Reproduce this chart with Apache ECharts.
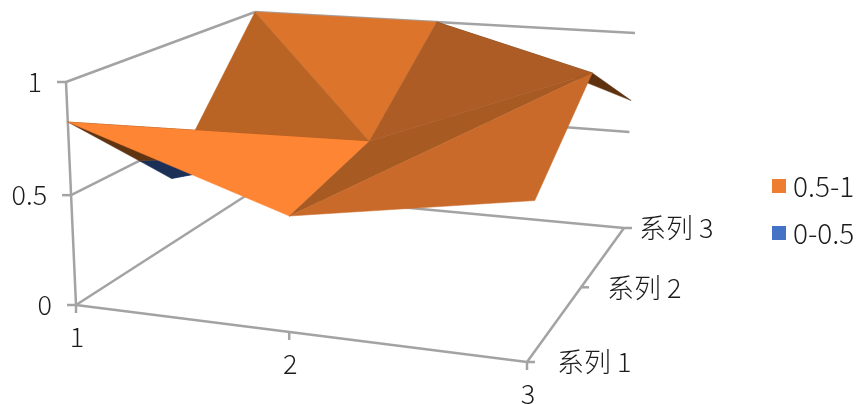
<!DOCTYPE html>
<html>
<head>
<meta charset="utf-8">
<style>
  html, body { margin: 0; padding: 0; background: #fff; }
  #chart { width: 862px; height: 404px; }
</style>
</head>
<body>
<div id="chart"></div>
<script src="https://cdn.jsdelivr.net/npm/echarts@6/dist/echarts.min.js"></script>
<script>
// values
const xLabels = ['1', '2', '3'];
const depthLabels = ['系列 1', '系列 2', '系列 3'];
const zTicks = [0, 0.5, 1];
const series1Values = [0.825, 0.5, 0.655];
const series2Values = [0.33, 0.595, 0.98];
const series3Values = [1, 1, 0.66];
const bandNames = ['0.5-1', '0-0.5'];

const rows = [series1Values, series2Values, series3Values];
const FONT = '"Noto Sans CJK SC", sans-serif';
const TEXT_COLOR = '#1c1c1c';
const FRAME_COLOR = '#a3a3a3';

// the 3d box as it sits on the page: front-left, front-right, back-right, back-left
const floorQuad = [[76, 305], [527, 362], [624, 228], [250, 193]];
const topQuad = [[66, 82], [539, 113], [635, 33], [255, 12]];

// perspective weights come from the floor, the top uses the same ones
const persp = (function (q) {
  const dx1 = q[1][0] - q[2][0], dy1 = q[1][1] - q[2][1];
  const dx2 = q[3][0] - q[2][0], dy2 = q[3][1] - q[2][1];
  const sx = q[0][0] - q[1][0] + q[2][0] - q[3][0];
  const sy = q[0][1] - q[1][1] + q[2][1] - q[3][1];
  const det = dx1 * dy2 - dx2 * dy1;
  return { g: (sx * dy2 - dx2 * sy) / det, h: (dx1 * sy - sx * dy1) / det };
})(floorQuad);

function quadPoint(q, u, v) {
  const g = persp.g, h = persp.h;
  const w = 1 + g * u + h * v;
  const ws = [1, 1 + g, 1 + g + h, 1 + h];
  const bl = [(1 - u) * (1 - v), u * (1 - v), u * v, (1 - u) * v];
  let x = 0, y = 0;
  q.forEach(function (c, i) {
    x += c[0] * ws[i] * bl[i];
    y += c[1] * ws[i] * bl[i];
  });
  return [x / w, y / w];
}

// u: x index 0..2, v: row index 0..2, z: value 0..1
function project(u, v, z) {
  const a = quadPoint(floorQuad, u / 2, v / 2);
  const b = quadPoint(topQuad, u / 2, v / 2);
  const f = z / (1 + 0.03 * (1 - z)); // the value axis is a little foreshortened too
  return [a[0] + (b[0] - a[0]) * f, a[1] + (b[1] - a[1]) * f];
}

// surface triangles back to front, [x, row] of each corner, with the shade of each band
const triangles = [
  { c: [[0, 2], [1, 2], [1, 1]], top: '#dc742c', low: '#3f66ad' },
  { c: [[0, 2], [1, 1], [0, 1]], top: '#b96425', low: '#2f5597' },
  { c: [[1, 2], [2, 1], [2, 2]], top: '#5e3210', low: '#1b2f57' },
  { c: [[1, 2], [1, 1], [2, 1]], top: '#ac5c24', low: '#2f5597' },
  { c: [[0, 0], [1, 1], [0, 1]], top: '#603311', low: '#1b2f57' },
  { c: [[0, 0], [1, 0], [1, 1]], top: '#fe8534', low: '#4472c4' },
  { c: [[1, 0], [2, 1], [1, 1]], top: '#a85a23', low: '#2f5597' },
  { c: [[1, 0], [2, 0], [2, 1]], top: '#c96a2a', low: '#3f66ad' }
];

// part of a triangle that lies inside a value band
function clipBand(tri, lo, hi) {
  let pts = tri.map(p => [p[0], p[1], rows[p[1]][p[0]]]);
  [[lo, 1], [hi, -1]].forEach(function (edge) {
    const out = [];
    pts.forEach(function (p, i) {
      const n = pts[(i + 1) % pts.length];
      const dp = (p[2] - edge[0]) * edge[1];
      const dn = (n[2] - edge[0]) * edge[1];
      if (dp >= 0) out.push(p);
      if (dp * dn < 0) {
        const t = dp / (dp - dn);
        out.push([p[0] + (n[0] - p[0]) * t, p[1] + (n[1] - p[1]) * t, edge[0]]);
      }
    });
    pts = out;
  });
  return pts;
}

function bandRender(lo, hi, key) {
  return function (params, api) {
    const t = triangles[api.value(0)];
    const pts = clipBand(t.c, lo, hi);
    if (pts.length < 3) return null;
    return {
      type: 'polygon',
      shape: { points: pts.map(p => api.coord(project(p[0], p[1], p[2]))) },
      style: { fill: t[key], stroke: t[key], lineWidth: 0.5 }
    };
  };
}

// box lines and ticks, as [from, to] in box coordinates plus a pixel tail for ticks
const frameLines = [];
zTicks.forEach(function (z) {
  frameLines.push({ a: [0, 0, z], b: [0, 2, z] });
  frameLines.push({ a: [0, 2, z], b: [2, 2, z] });
  frameLines.push({ a: [0, 0, z], b: [0, 0, z], tail: [-9, 0] });
});
frameLines.push({ a: [0, 0, 0], b: [0, 0, 1] });
frameLines.push({ a: [0, 0, 0], b: [2, 0, 0] });
frameLines.push({ a: [2, 0, 0], b: [2, 2, 0] });
xLabels.forEach(function (s, i) {
  frameLines.push({ a: [i, 0, 0], b: [i, 0, 0], tail: [0, 8] });
});
depthLabels.forEach(function (s, i) {
  frameLines.push({ a: [2, i, 0], b: [2, i, 0], tail: [8, 0] });
});

const labelItems = [];
zTicks.forEach(function (z) {
  labelItems.push({ text: String(z), at: [0, 0, z], off: [-24, 0], align: 'right' });
});
xLabels.forEach(function (s, i) {
  labelItems.push({ text: s, at: [i, 0, 0], off: [1, 32], align: 'center' });
});
depthLabels.forEach(function (s, i) {
  labelItems.push({ text: s, at: [2, i, 0], off: [i === 0 ? 30 : i === 1 ? 26 : 15, 0], align: 'left' });
});

const option = {
  animation: false,
  backgroundColor: '#fff',
  grid: { left: 0, right: 0, top: 0, bottom: 0 },
  xAxis: { type: 'value', min: 0, max: 862, show: false },
  yAxis: { type: 'value', min: 0, max: 404, inverse: true, show: false },
  legend: {
    orient: 'vertical',
    left: 767,
    top: 167,
    itemWidth: 14,
    itemHeight: 14,
    itemGap: 19,
    selectedMode: false,
    textStyle: { fontFamily: FONT, fontSize: 28, fontWeight: 300, color: TEXT_COLOR, padding: [0, 0, 0, 2] },
    data: bandNames.map(n => ({ name: n, icon: 'rect' }))
  },
  series: [
    {
      type: 'custom',
      name: 'frame',
      silent: true,
      z: 1,
      data: frameLines.map((l, i) => [i]),
      renderItem: function (params, api) {
        const l = frameLines[api.value(0)];
        const p = api.coord(project(l.a[0], l.a[1], l.a[2]));
        const q = api.coord(project(l.b[0], l.b[1], l.b[2]));
        if (l.tail) { q[0] += l.tail[0]; q[1] += l.tail[1]; }
        return {
          type: 'line',
          shape: { x1: p[0], y1: p[1], x2: q[0], y2: q[1] },
          style: { stroke: FRAME_COLOR, lineWidth: 2.5 }
        };
      }
    },
    {
      type: 'custom',
      name: bandNames[1],
      silent: true,
      z: 2,
      itemStyle: { color: '#4472c4' },
      data: triangles.map((t, i) => [i]),
      renderItem: bandRender(0, 0.5, 'low')
    },
    {
      type: 'custom',
      name: bandNames[0],
      silent: true,
      z: 3,
      itemStyle: { color: '#ed7d31' },
      data: triangles.map((t, i) => [i]),
      renderItem: bandRender(0.5, 1, 'top')
    },
    {
      type: 'custom',
      name: 'labels',
      silent: true,
      z: 4,
      data: labelItems.map((l, i) => [i]),
      renderItem: function (params, api) {
        const l = labelItems[api.value(0)];
        const p = api.coord(project(l.at[0], l.at[1], l.at[2]));
        return {
          type: 'text',
          style: {
            text: l.text,
            x: p[0] + l.off[0],
            y: p[1] + l.off[1],
            align: l.align,
            verticalAlign: 'middle',
            fill: TEXT_COLOR,
            font: '300 27px ' + FONT
          }
        };
      }
    }
  ]
};

echarts.init(document.getElementById('chart')).setOption(option);
</script>
</body>
</html>
